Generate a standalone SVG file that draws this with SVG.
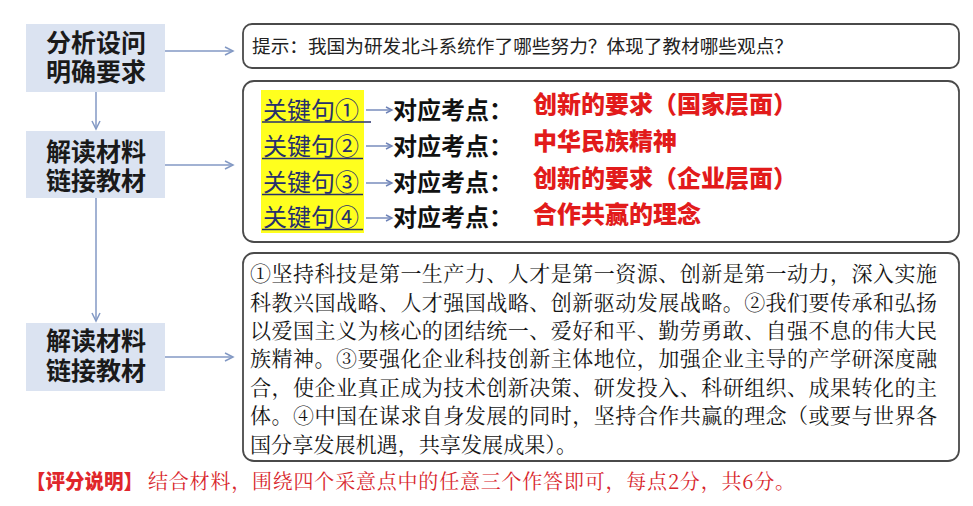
<svg xmlns="http://www.w3.org/2000/svg" width="973" height="506" viewBox="0 0 973 506">
<style>
.step{fill:#dbe3f1;stroke:none}
.stept{font-family:"Noto Sans CJK SC","Liberation Sans",sans-serif;font-weight:700;font-size:25px;fill:#1a1a1a;text-anchor:middle}
.panel{fill:#ffffff;stroke:#4a4a4a;stroke-width:1.8}
.hint{font-family:"Noto Sans CJK SC","Liberation Sans",sans-serif;font-size:18.5px;fill:#222}
.key{font-family:"Noto Sans CJK SC","Liberation Sans",sans-serif;font-size:24px;fill:#27306c}
.kd{font-family:"Noto Sans CJK SC","Liberation Sans",sans-serif;font-size:24px;font-weight:700;fill:#111}
.red{font-family:"Noto Sans CJK SC","Liberation Sans",sans-serif;font-size:24px;font-weight:900;fill:#e21b1b}
.para{font-family:"Noto Serif CJK SC","Noto Sans CJK SC","Liberation Serif",serif;font-size:21px;fill:#151515}
.hl{fill:#ffff1e}
.ul{stroke:#27306c;stroke-width:1.5}
.conn{stroke:#8399c4;stroke-width:1.5;fill:none}
.small{stroke:#6f84b8;stroke-width:1.4;fill:none}
.score{font-family:"Noto Serif CJK SC","Noto Sans CJK SC","Liberation Serif",serif;font-size:20px;fill:#d8262c}
.scoreb{font-family:"Noto Sans CJK SC","Liberation Sans",sans-serif;font-size:20px;font-weight:900;fill:#e0262b}
</style>
<defs>
<marker id="arr" markerWidth="12" markerHeight="12" refX="9" refY="5" orient="auto" markerUnits="userSpaceOnUse">
<path d="M1,1 L9,5 L1,9" fill="none" stroke="#8399c4" stroke-width="1.5"/>
</marker>
<marker id="arrs" markerWidth="10" markerHeight="10" refX="7" refY="4" orient="auto" markerUnits="userSpaceOnUse">
<path d="M1,1 L7,4 L1,7" fill="none" stroke="#6f84b8" stroke-width="1.4"/>
</marker>
</defs>
<rect width="973" height="506" fill="#ffffff"/>

<g id="connectors">
<line class="conn" x1="96" y1="92" x2="96" y2="129" marker-end="url(#arr)"/>
<line class="conn" x1="96" y1="198" x2="96" y2="321" marker-end="url(#arr)"/>
<line class="conn" x1="165" y1="51" x2="233" y2="51" marker-end="url(#arr)"/>
<line class="conn" x1="165" y1="165" x2="233" y2="165" marker-end="url(#arr)"/>
<line class="conn" x1="165" y1="357" x2="233" y2="357" marker-end="url(#arr)"/>
</g>

<g id="step1">
<rect class="step" x="26" y="24" width="139" height="68"/>
<text class="stept"><tspan x="96" y="52">分析设问</tspan><tspan x="96" y="81">明确要求</tspan></text>
</g>
<g id="step2">
<rect class="step" x="26" y="131" width="139" height="67"/>
<text class="stept"><tspan x="96" y="161">解读材料</tspan><tspan x="96" y="190">链接教材</tspan></text>
</g>
<g id="step3">
<rect class="step" x="26" y="323" width="139" height="68"/>
<text class="stept"><tspan x="96" y="350">解读材料</tspan><tspan x="96" y="380">链接教材</tspan></text>
</g>

<g id="hint">
<rect class="panel" x="243" y="24" width="716" height="44" rx="9"/>
<text class="hint" x="252" y="53" textLength="541" lengthAdjust="spacingAndGlyphs">提示：我国为研发北斗系统作了哪些努力？体现了教材哪些观点？</text>
</g>

<g id="keys">
<rect class="panel" x="243" y="81" width="716" height="161" rx="11"/>
<rect class="hl" x="261" y="90" width="103" height="143"/>
<text class="key" x="263" y="119">关键句①</text>
<line class="ul" x1="262" y1="122" x2="371" y2="122"/>
<text class="key" x="263" y="155">关键句②</text>
<line class="ul" x1="262" y1="158.5" x2="363" y2="158.5"/>
<text class="key" x="263" y="191">关键句③</text>
<line class="ul" x1="262" y1="194.5" x2="363" y2="194.5"/>
<text class="key" x="263" y="226">关键句④</text>
<line class="ul" x1="262" y1="229.5" x2="363" y2="229.5"/>
<line class="small" x1="366" y1="110" x2="392" y2="110" marker-end="url(#arrs)"/>
<line class="small" x1="366" y1="146" x2="392" y2="146" marker-end="url(#arrs)"/>
<line class="small" x1="366" y1="183" x2="392" y2="183" marker-end="url(#arrs)"/>
<line class="small" x1="366" y1="218" x2="392" y2="218" marker-end="url(#arrs)"/>
<text class="kd" x="393" y="119">对应考点：</text>
<text class="kd" x="393" y="155">对应考点：</text>
<text class="kd" x="393" y="191">对应考点：</text>
<text class="kd" x="393" y="226">对应考点：</text>
<text class="red" x="533" y="113" textLength="264" lengthAdjust="spacingAndGlyphs">创新的要求（国家层面）</text>
<text class="red" x="533" y="150">中华民族精神</text>
<text class="red" x="533" y="187" textLength="264" lengthAdjust="spacingAndGlyphs">创新的要求（企业层面）</text>
<text class="red" x="533" y="223">合作共赢的理念</text>
</g>

<g id="answer">
<rect class="panel" x="243" y="253" width="716" height="208" rx="11"/>
<text class="para" x="250" y="281" textLength="687" lengthAdjust="spacing">①坚持科技是第一生产力、人才是第一资源、创新是第一动力，深入实施</text>
<text class="para" x="250" y="309.5" textLength="687" lengthAdjust="spacing">科教兴国战略、人才强国战略、创新驱动发展战略。②我们要传承和弘扬</text>
<text class="para" x="250" y="338" textLength="687" lengthAdjust="spacing">以爱国主义为核心的团结统一、爱好和平、勤劳勇敢、自强不息的伟大民</text>
<text class="para" x="250" y="366" textLength="687" lengthAdjust="spacing">族精神。③要强化企业科技创新主体地位，加强企业主导的产学研深度融</text>
<text class="para" x="250" y="394.5" textLength="687" lengthAdjust="spacing">合，使企业真正成为技术创新决策、研发投入、科研组织、成果转化的主</text>
<text class="para" x="250" y="423" textLength="687" lengthAdjust="spacing">体。④中国在谋求自身发展的同时，坚持合作共赢的理念（或要与世界各</text>
<text class="para" x="250" y="451.5" textLength="327" lengthAdjust="spacingAndGlyphs">国分享发展机遇，共享发展成果）。</text>
</g>

<g id="scoring">
<text class="scoreb" x="26" y="489" textLength="117" lengthAdjust="spacingAndGlyphs">【评分说明】</text>
<text class="score" x="148" y="489" textLength="647" lengthAdjust="spacing">结合材料，围绕四个采意点中的任意三个作答即可，每点2分，共6分。</text>
</g>
</svg>
